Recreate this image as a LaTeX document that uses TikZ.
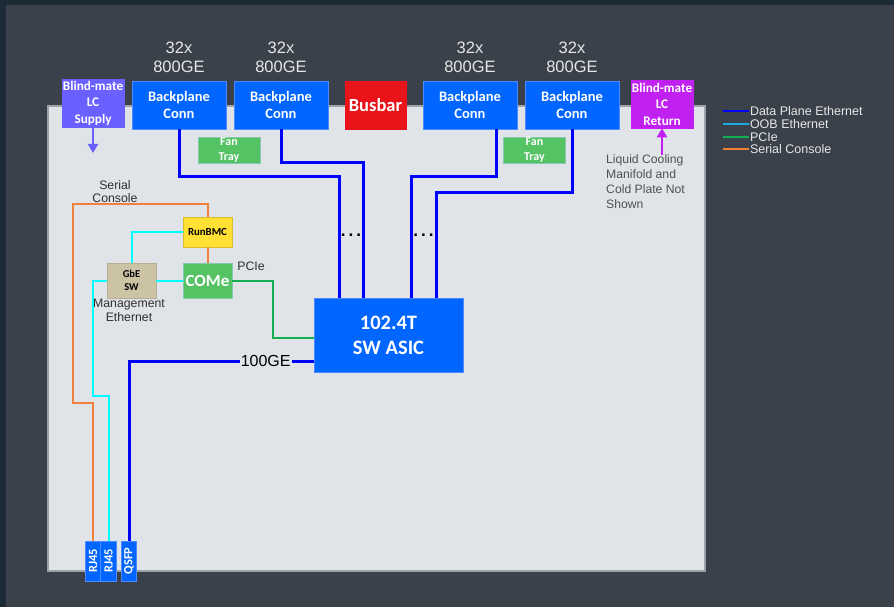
\documentclass[tikz,border=0pt]{standalone}
\usepackage{fontspec}
\usepackage{graphicx}
\setmainfont{Liberation Sans}
\newfontfamily\boxfont{Carlito}
\usetikzlibrary{arrows.meta}

\definecolor{pagedark}{HTML}{1C2A35}
\definecolor{pagebg}{HTML}{3A414B}
\definecolor{chassisfill}{HTML}{E0E3E8}
\definecolor{chassisedge}{HTML}{9EA3AA}
\definecolor{connblue}{HTML}{0066FF}
\definecolor{connedge}{HTML}{4A8CFF}
\definecolor{busred}{HTML}{E8141A}
\definecolor{supplyc}{HTML}{6A60FF}
\definecolor{returnc}{HTML}{C020F0}
\definecolor{fangreen}{HTML}{55C264}
\definecolor{fanedge}{HTML}{86C8B0}
\definecolor{bmcyellow}{HTML}{FFE033}
\definecolor{gbetan}{HTML}{CBC3A3}
\definecolor{dataline}{HTML}{0000FF}
\definecolor{oobline}{HTML}{00FFFF}
\definecolor{oobkey}{HTML}{1EA7E1}
\definecolor{pcieline}{HTML}{10B050}
\definecolor{serline}{HTML}{F0803A}
\definecolor{keytext}{HTML}{E6E6E6}
\definecolor{notetext}{HTML}{505050}
\definecolor{labeltext}{HTML}{303030}

\tikzset{
  card/.style={draw=connedge, line width=0.6pt, inner sep=0pt, align=center,
    text=white, font=\boxfont\bfseries},
  bpconn/.style={card, fill=connblue, minimum width=94pt, minimum height=48pt,
    font=\boxfont\bfseries\fontsize{14.5}{16.5}\selectfont},
  fanbox/.style={card, draw=fanedge, fill=fangreen, minimum width=62pt, minimum height=26pt,
    font=\boxfont\bfseries\fontsize{12}{14.5}\selectfont},
  lcbox/.style={card, minimum width=62pt, minimum height=48pt,
    font=\boxfont\bfseries\fontsize{13.2}{16.5}\selectfont},
  portbox/.style={card, fill=connblue, minimum width=15.5pt, minimum height=40pt,
    font=\boxfont\bfseries\fontsize{12.5}{12.5}\selectfont},
  dataln/.style={draw=dataline, line width=3pt},
  oobln/.style={draw=oobline, line width=2pt},
  pcieln/.style={draw=pcieline, line width=2pt},
  serln/.style={draw=serline, line width=2pt},
  speedlbl/.style={text=keytext, align=center, inner sep=0pt,
    font=\fontsize{16.5}{19}\selectfont},
  darklbl/.style={text=labeltext, align=center, inner sep=0pt,
    font=\fontsize{12.3}{13.5}\selectfont},
  keylbl/.style={text=keytext, anchor=west, inner sep=0pt,
    font=\fontsize{12.5}{12.5}\selectfont},
  ellipsis/.style={inner sep=0pt, font=\bfseries\fontsize{17}{17}\selectfont},
}

\begin{document}
\begin{tikzpicture}[x=1pt,y=-1pt]
  % page background
  \fill[pagedark] (0,0) rectangle (894,607);
  \fill[pagebg] (6,5) rectangle (894,607);
  \useasboundingbox (0,0) rectangle (894,607);

  % chassis outline
  \filldraw[fill=chassisfill, draw=chassisedge, line width=1.6pt] (48,106) rectangle (705,571);

  % front-edge modules
  \node[lcbox, fill=supplyc, draw=supplyc] (sup) at (93,103) {Blind-mate\\LC\\Supply};
  \node[bpconn] (bp1) at (179,105) {Backplane\\Conn};
  \node[bpconn] (bp2) at (281,105) {Backplane\\Conn};
  \node[card, fill=busred, draw=busred, minimum width=61pt, minimum height=48pt,
        font=\boxfont\bfseries\fontsize{18.5}{20}\selectfont] (bus) at (375.5,105) {Busbar};
  \node[bpconn] (bp3) at (470,105) {Backplane\\Conn};
  \node[bpconn] (bp4) at (572,105) {Backplane\\Conn};
  \node[lcbox, fill=returnc, draw=returnc] (ret) at (662,104) {Blind-mate\\LC\\Return};

  % port speed captions
  \node[speedlbl] (sp1) at (179,57) {32x\\800GE};
  \node[speedlbl] (sp2) at (281,57) {32x\\800GE};
  \node[speedlbl] (sp3) at (470,57) {32x\\800GE};
  \node[speedlbl] (sp4) at (572,57) {32x\\800GE};

  % fan trays
  \node[fanbox] (fan1) at (229,150) {Fan\\Tray};
  \node[fanbox] (fan2) at (534.5,150) {Fan\\Tray};

  % switch ASIC
  \node[card, fill=connblue, minimum width=149pt, minimum height=74pt,
        font=\boxfont\bfseries\fontsize{20.5}{25}\selectfont] (asic) at (388.5,335) {102.4T\\SW ASIC};

  % management complex
  \node[card, fill=bmcyellow, draw=bmcyellow!85!black, text=black, minimum width=49pt,
        minimum height=30pt, font=\boxfont\bfseries\fontsize{10.8}{12}\selectfont] (bmc) at (207.5,232) {RunBMC};
  \node[card, fill=fangreen, draw=fanedge, minimum width=49pt, minimum height=35pt,
        font=\boxfont\bfseries\fontsize{17}{19}\selectfont] (come) at (207.5,280.5) {COMe};
  \node[card, fill=gbetan, draw=gbetan!90!black, text=black, minimum width=49pt,
        minimum height=35pt, font=\boxfont\bfseries\fontsize{10.5}{13.5}\selectfont] (gbe) at (131.5,280.5) {GbE\\SW};

  % rear ports
  \node[portbox] (rj1) at (93,561) {\rotatebox{90}{RJ45}};
  \node[portbox] (rj2) at (108.5,561) {\rotatebox{90}{RJ45}};
  \node[portbox] (qsfp) at (129,561) {\rotatebox{90}{QSFP}};

  % liquid cooling arrows
  \coordinate (supin) at (93,153);
  \coordinate (retout) at (662,155);
  \draw[draw=supplyc, line width=2.4pt, -{Triangle[width=10pt,length=9pt]}] (sup.south) -- (supin);
  \draw[draw=returnc, line width=2.4pt, -{Triangle[width=10pt,length=9pt]}] (retout) -- (ret.south);

  % data plane ethernet
  \coordinate (d1) at (339,176);
  \coordinate (d2) at (363,162);
  \coordinate (d3) at (411,176);
  \coordinate (d4) at (436,192);
  \draw[dataln] (bp1.south) |- (d1) -- (d1 |- asic.north);
  \draw[dataln] (bp2.south) |- (d2) -- (d2 |- asic.north);
  \draw[dataln] ([xshift=26pt]bp3.south) |- (d3) -- (d3 |- asic.north);
  \draw[dataln] (bp4.south) |- (d4) -- (d4 |- asic.north);
  \node[ellipsis] (dotsl) at (351,235) {.\hspace{3pt}.\hspace{3pt}.};
  \node[ellipsis] (dotsr) at (423.5,235) {.\hspace{3pt}.\hspace{3pt}.};

  \coordinate (q1) at (129,361);
  \draw[dataln] (asic.west |- q1) -- node[pos=0.26, fill=chassisfill, inner sep=1pt,
      font=\fontsize{16}{16}\selectfont] (lbl100) {100GE} (q1) -- (qsfp.north);

  % serial console
  \coordinate (s1) at (73,204);
  \coordinate (s2) at (93,403);
  \draw[serln] (bmc.north) |- (s1) |- (s2) -- (rj1.north);
  \draw[serln] (bmc.south) -- (come.north);

  % management ethernet
  \coordinate (o1) at (93,396);
  \draw[oobln] (bmc.west) -| (gbe.north);
  \draw[oobln] (gbe.east) -- (come.west);
  \draw[oobln] (gbe.west) -| (o1) -| (rj2.north);

  % PCIe
  \coordinate (p1) at (273,338);
  \draw[pcieln] (come.east) -| (p1) -- (p1 -| asic.west);

  % captions inside the chassis
  \node[darklbl] (serlbl) at (115,191.5) {Serial\\Console};
  \node[darklbl] (mgmtlbl) at (129,310.5) {Management\\Ethernet};
  \node[darklbl] (pcielbl) at (251,266) {PCIe};
  \node[text=notetext, align=left, anchor=north west, inner sep=0pt,
        font=\fontsize{12.2}{15}\selectfont] (note) at (606,154)
        {Liquid Cooling\\Manifold and\\Cold Plate Not\\Shown};

  % legend
  \draw[draw=dataline, line width=2pt] (723,111) -- (749,111) node[keylbl] (k1) {Data Plane Ethernet};
  \draw[draw=oobkey, line width=2pt] (723,124) -- (749,124) node[keylbl] (k2) {OOB Ethernet};
  \draw[draw=pcieline, line width=2pt] (723,137) -- (749,137) node[keylbl] (k3) {PCIe};
  \draw[draw=serline, line width=2pt] (723,149) -- (749,149) node[keylbl] (k4) {Serial Console};
\end{tikzpicture}
\end{document}
